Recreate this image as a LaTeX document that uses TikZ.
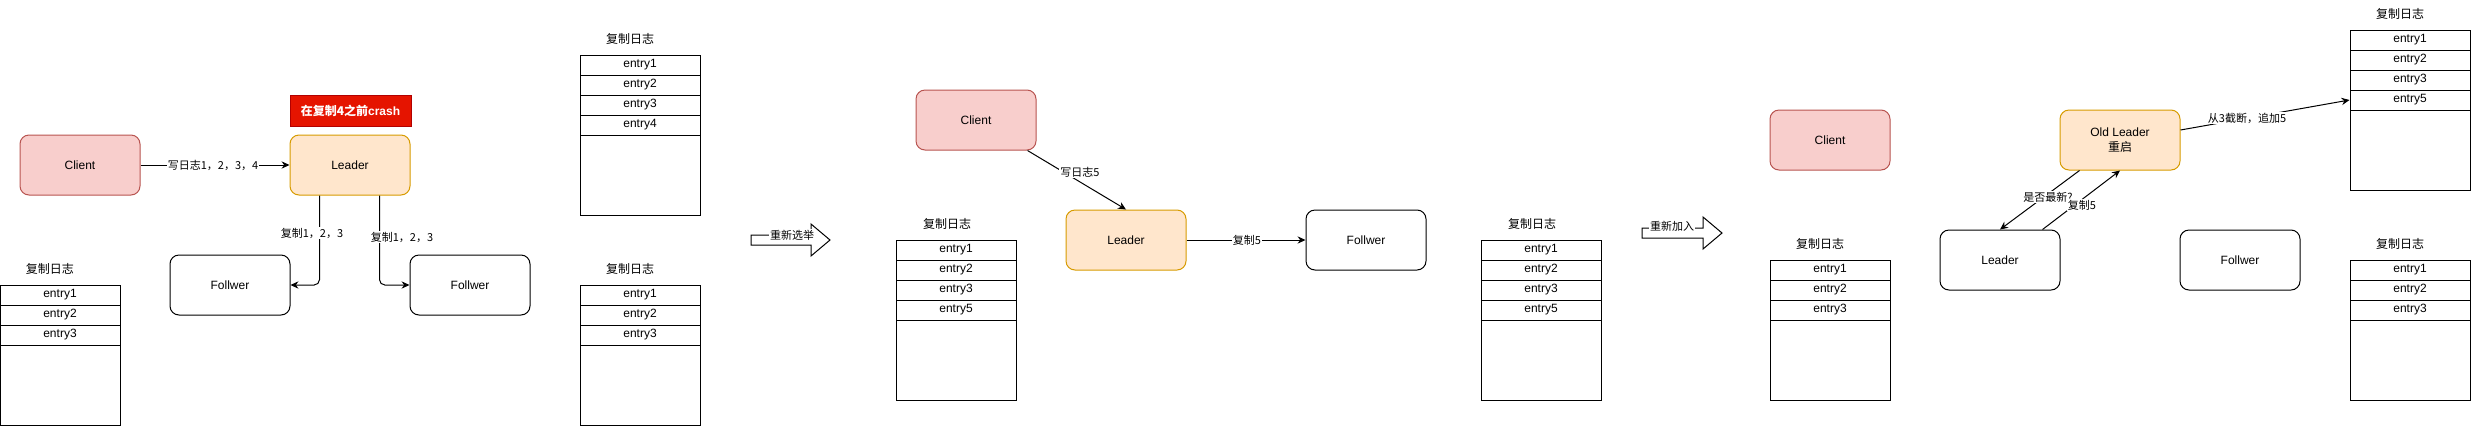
\documentclass[tikz,border=0pt]{standalone}
\usepackage{fontspec}
\setmainfont{Liberation Sans}
\newfontfamily\cjk{Noto Sans CJK SC}
\usepackage{tikz}
\usetikzlibrary{arrows.meta,calc}

\begin{document}
\begin{tikzpicture}[x=0.75pt,y=0.75pt,yscale=-1,xscale=1,
  box/.style={draw, rounded corners=6.75pt, minimum width=90pt, minimum height=45pt, inner sep=0pt, line width=0.75pt, font=\fontsize{9}{11}\selectfont, align=center},
  clientbox/.style={box, draw={rgb, 255:red, 184; green, 84; blue, 80 }, fill={rgb, 255:red, 248; green, 206; blue, 204 }},
  leaderbox/.style={box, draw={rgb, 255:red, 215; green, 155; blue, 0 }, fill={rgb, 255:red, 255; green, 230; blue, 204 }},
  entry/.style={draw, minimum width=90pt, minimum height=15pt, inner sep=0pt, line width=0.75pt, font=\fontsize{9}{11}\selectfont},
  logtail/.style={draw, minimum width=90pt, minimum height=60pt, inner sep=0pt, line width=0.75pt},
  logtitle/.style={inner sep=0pt, font=\cjk\fontsize{9}{11}\selectfont},
  elabel/.style={fill=white, inner sep=0.75pt, font=\cjk\fontsize{8.25}{10}\selectfont},
  link/.style={line width=0.75pt, -{Stealth[length=6pt, width=5.5pt, inset=2pt]}},
  bigarrow/.style={line width=0.75pt, fill=white, line join=miter}
]
%uncomment if require: \path (0,426); %set diagram left start at 0, and has height of 426
\useasboundingbox (0,0) rectangle (2471,426);

%%%%% before the crash %%%%%
% Client
\node[clientbox] (clientA) at (80,165) {Client};
% Leader
\node[leaderbox] (leaderA) at (350,165) {Leader};
% crash note
\node[draw={rgb, 255:red, 178; green, 0; blue, 0 }, fill={rgb, 255:red, 229; green, 20; blue, 0 }, text=white, minimum width=90.75pt, minimum height=23.25pt, inner sep=0pt, font=\bfseries\fontsize{9}{11}\selectfont] (crash) at (350.5,110.5) {{\cjk 在复制4之前}crash};
% Followers
\node[box] (follA) at (230,285) {Follwer};
\node[box] (follB) at (470,285) {Follwer};

% Log of the first follower
\node[logtitle] (logAt) at (50,269) {复制日志};
\node[entry] (logA-1) at (60,295) {entry1};
\node[entry] (logA-2) at (60,315) {entry2};
\node[entry] (logA-3) at (60,335) {entry3};
\node[logtail] (logA-t) at (60,385) {};

% Log of the leader
\node[logtitle] (logBt) at (630,39) {复制日志};
\node[entry] (logB-1) at (640,65) {entry1};
\node[entry] (logB-2) at (640,85) {entry2};
\node[entry] (logB-3) at (640,105) {entry3};
\node[entry] (logB-4) at (640,125) {entry4};
\node[logtail] (logB-t) at (640,175) {};

% Log of the second follower
\node[logtitle] (logCt) at (630,269) {复制日志};
\node[entry] (logC-1) at (640,295) {entry1};
\node[entry] (logC-2) at (640,315) {entry2};
\node[entry] (logC-3) at (640,335) {entry3};
\node[logtail] (logC-t) at (640,385) {};

% Straight Lines
\draw[link] (clientA) -- (leaderA);
\draw[link, rounded corners=4pt] ($(leaderA.south west)+(30,0)$) |- (follA.east);
\draw[link, rounded corners=4pt] ($(leaderA.south west)+(90,0)$) |- (follB.west);
% Text Node
\node[elabel] (wrA) at (213,165) {写日志1，2，3，4};
\node[elabel] (cpA) at (312,233) {复制1，2，3};
\node[elabel] (cpB) at (402,237) {复制1，2，3};

% re-election
\draw[bigarrow] (751,235) -- (811,235) -- (811,224) -- (830,240) -- (811,256) -- (811,245) -- (751,245) -- cycle;
\node[elabel] (elect) at (792,235) {重新选举};

%%%%% after the election %%%%%
\node[clientbox] (clientB) at (976,120) {Client};
\node[leaderbox] (leaderB) at (1126,240) {Leader};
\node[box] (follC) at (1366,240) {Follwer};

% Log of the new leader
\node[logtitle] (logDt) at (947,224) {复制日志};
\node[entry] (logD-1) at (956,250) {entry1};
\node[entry] (logD-2) at (956,270) {entry2};
\node[entry] (logD-3) at (956,290) {entry3};
\node[entry] (logD-4) at (956,310) {entry5};
\node[logtail] (logD-t) at (956,360) {};

% Log of the follower
\node[logtitle] (logEt) at (1532,224) {复制日志};
\node[entry] (logE-1) at (1541,250) {entry1};
\node[entry] (logE-2) at (1541,270) {entry2};
\node[entry] (logE-3) at (1541,290) {entry3};
\node[entry] (logE-4) at (1541,310) {entry5};
\node[logtail] (logE-t) at (1541,360) {};

% Straight Lines
\draw[link] ($(clientB.south east)+(-9,0)$) -- (leaderB.north);
\draw[link] (leaderB) -- (follC);
% Text Node
\node[elabel] (wrB) at (1080,172) {写日志5};
\node[elabel] (cpC) at (1247,240) {复制5};

% rejoin
\draw[bigarrow] (1642,228) -- (1703,228) -- (1703,217) -- (1722,233) -- (1703,249) -- (1703,238) -- (1642,238) -- cycle;
\node[elabel] (rejoin) at (1672,226) {重新加入};

%%%%% old leader rejoins %%%%%
\node[clientbox] (clientC) at (1830,140) {Client};
\node[box] (leaderC) at (2000,260) {Leader};
\node[leaderbox] (oldL) at (2120,140) {Old Leader\\{\cjk 重启}};
\node[box] (follD) at (2240,260) {Follwer};

% Log of the new leader
\node[logtitle] (logFt) at (1820,244) {复制日志};
\node[entry] (logF-1) at (1830,270) {entry1};
\node[entry] (logF-2) at (1830,290) {entry2};
\node[entry] (logF-3) at (1830,310) {entry3};
\node[logtail] (logF-t) at (1830,360) {};

% Log of the old leader
\node[logtitle] (logGt) at (2400,14) {复制日志};
\node[entry] (logG-1) at (2410,40) {entry1};
\node[entry] (logG-2) at (2410,60) {entry2};
\node[entry] (logG-3) at (2410,80) {entry3};
\node[entry] (logG-4) at (2410,100) {entry5};
\node[logtail] (logG-t) at (2410,150) {};

% Log of the follower
\node[logtitle] (logHt) at (2400,244) {复制日志};
\node[entry] (logH-1) at (2410,270) {entry1};
\node[entry] (logH-2) at (2410,290) {entry2};
\node[entry] (logH-3) at (2410,310) {entry3};
\node[logtail] (logH-t) at (2410,360) {};

% Straight Lines
\draw[link] ($(oldL.south west)+(20,0)$) -- (leaderC.north);
\draw[link] ($(leaderC.north east)+(-18,0)$) -- (oldL.south);
\draw[link] ($(oldL.east)+(0,-10)$) -- (logG-4.west);
% Text Node
\node[elabel] (ask) at (2048,197) {是否最新?};
\node[elabel] (cpD) at (2082,205) {复制5};
\node[elabel] (trunc) at (2247,118) {从3截断，追加5};

\end{tikzpicture}
\end{document}
